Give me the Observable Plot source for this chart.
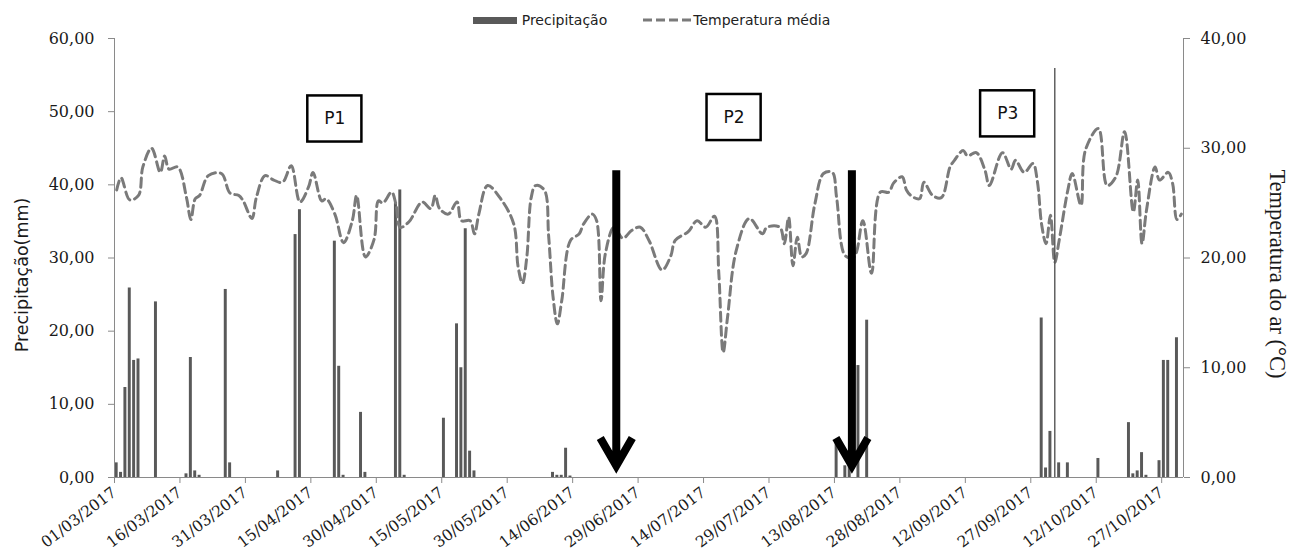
<!DOCTYPE html>
<html>
<head>
<meta charset="utf-8">
<script src="https://cdn.jsdelivr.net/npm/d3@7"></script>
<script src="https://cdn.jsdelivr.net/npm/@observablehq/plot@0.6"></script>
<style>
  body { margin: 0; background: #fff; }
  #legend { height: 28px; box-sizing: border-box; padding-top: 12px; display: flex; justify-content: center; align-items: center;
            font-family: "DejaVu Sans", sans-serif; font-size: 14px; color: #222; line-height: 16px; }
  #legend .sw { width: 44px; height: 7px; background: #595959; margin-right: 5px; }
  #legend .gap { width: 36px; }
  #legend svg { margin-right: 2px; }
</style>
</head>
<body>
<div id="legend">
  <span class="sw"></span><span>Precipitação</span><span class="gap"></span>
  <svg width="48" height="8"><line x1="0" y1="4" x2="48" y2="4" stroke="#7a7a7a" stroke-width="3" stroke-dasharray="9,4"></line></svg>
  <span>Temperatura média</span>
</div>
<div id="chart"></div>
<script>
// ---- data (days counted from 01/03/2017) ----
const startDate = "2017-03-01";
const endDate = "2017-11-01";

const precipDays = [0,1,2,3,4,5,9,16,17,18,19,25,26,37,41,42,50,51,52,56,57,64,65,66,75,78,79,80,81,82,100,101,102,103,104,165,167,168,170,172,212,213,214,216,218,225,232,233,234,235,236,239,240,241,243];
const precipMm   = [2.0,0.7,12.3,25.9,16.0,16.2,24.0,0.5,16.4,0.9,0.3,25.7,2.0,0.9,33.2,36.6,32.3,15.2,0.3,8.9,0.7,37.5,39.3,0.3,8.1,21.0,15.0,34.0,3.6,0.9,0.7,0.3,0.3,4.0,0.2,4.8,1.6,1.6,15.3,21.5,21.8,1.3,6.3,2.0,2.0,2.6,7.5,0.5,0.9,3.4,0.3,2.3,16.0,16.0,19.1];

const tempDays = [0,1,3,5,6,8,10,11,12,14,16,17,18,19,21,24,26,28,29,31,32,34,36,38,40,42,44,45,47,48,50,52,54,55,57,59,60,61,63,64,65,67,70,72,73,74,76,78,79,81,82,83,85,88,91,92,93,94,95,96,98,99,100,101,102,104,106,107,109,110,111,112,114,116,118,120,122,125,127,128,131,133,135,137,138,139,140,142,145,148,149,152,153,154,155,156,157,158,160,162,164,165,167,169,171,173,175,177,178,180,181,182,184,185,187,189,191,192,194,195,197,199,200,203,205,206,208,210,211,212,213,214,215,216,218,219,221,222,225,227,229,231,233,234,235,236,238,239,241,242,243,244];
const tempC    = [26.2,27.3,25.3,25.7,28.3,30.0,27.8,29.3,28.1,28.3,25.5,23.5,25.4,25.7,27.5,27.7,25.9,25.7,25.2,23.6,25.5,27.5,27.1,26.9,28.4,25.1,26.5,27.8,25.2,25.4,24.0,21.4,23.4,25.7,20.1,21.7,25.2,25.0,26.0,24.9,22.8,23.3,25.1,24.5,25.7,24.5,24.0,25.1,23.4,23.4,22.2,24.0,26.6,25.4,23.1,19.2,17.7,20.1,25.5,26.6,26.2,22.0,16.5,14.0,16.1,21.6,22.2,23.1,24.0,23.4,16.1,20.4,22.8,21.8,22.5,22.8,21.6,18.9,20.2,21.6,22.4,23.4,22.8,23.8,18.6,11.4,14.6,20.7,23.6,22.2,22.8,22.8,21.3,23.7,19.3,21.9,20.1,20.4,24.9,27.7,27.8,25.5,20.2,20.1,23.4,18.6,26.0,26.0,26.8,27.4,26.2,25.7,25.4,26.9,25.7,25.5,28.3,28.9,29.8,29.3,29.6,28.0,26.6,29.6,28.1,28.9,27.8,28.6,27.0,23.0,21.3,23.9,19.6,21.6,26.2,27.7,24.8,29.8,31.8,26.6,27.4,31.5,24.2,27.1,21.3,24.3,28.3,27.1,27.8,26.8,23.5,24.0];

const xTickLabels = ["01/03/2017","16/03/2017","31/03/2017","15/04/2017","30/04/2017","15/05/2017","30/05/2017","14/06/2017","29/06/2017","14/07/2017","29/07/2017","13/08/2017","28/08/2017","12/09/2017","27/09/2017","12/10/2017","27/10/2017"];
const precipTicks = [0,10,20,30,40,50,60];
const tempTicks = [0,10,20,30,40];

// annotations
const periodLabels = ["P1","P2","P3"];
const periodDays = [50.5,142.0,204.7];
const periodMm = [49.0,49.2,49.7];
const arrowDays = [115, 169];
const arrowTopMm = [42, 42];
const arrowTipMm = [1.6, 1.6];
const markerDay = [215];
const markerMm = [55.9];

// ---- helpers ----
const t0 = d3.utcParse("%Y-%m-%d")(startDate);
const t1 = d3.utcParse("%Y-%m-%d")(endDate);
const dayAt = (d) => new Date(t0.getTime() + d * 864e5);
const parseTick = d3.utcParse("%d/%m/%Y");
const fmt = (v) => v.toFixed(2).replace(".", ",");
const tempToMm = 60 / 40;

const precip = precipDays.map((d, i) => ({day: d, mm: precipMm[i]}));
const temp = tempDays.map((d, i) => ({day: d, t: tempC[i]}));
const periods = periodLabels.map((l, i) => ({label: l, day: periodDays[i], mm: periodMm[i]}));
const arrows = arrowDays.map((d, i) => ({day: d, top: arrowTopMm[i], tip: arrowTipMm[i]}));
const markers = markerDay.map((d, i) => ({day: d, mm: markerMm[i]}));
const boxHalfDays = 6.2, boxHalfMm = 3.15;

const axisColor = "#8a8a8a";
const textColor = "#1a1a1a";

const chart = Plot.plot({
  width: 1303,
  height: 524,
  marginTop: 10,
  marginBottom: 75,
  marginLeft: 114,
  marginRight: 120,
  style: {background: "white", overflow: "visible"},
  x: {type: "utc", domain: [t0, t1]},
  y: {domain: [0, 60]},
  marks: [
    Plot.rect(precip, {x1: d => dayAt(d.day), x2: d => dayAt(d.day + 1), y1: 0, y2: "mm", fill: "#595959", insetLeft: 0.7, insetRight: 0.7}),
    Plot.line(temp, {x: d => dayAt(d.day + 0.5), y: d => d.t * tempToMm, stroke: "#7a7a7a", strokeWidth: 3, strokeDasharray: "9,5", curve: "catmull-rom"}),
    Plot.ruleX(markers, {x: d => dayAt(d.day + 0.5), y1: 0, y2: "mm", stroke: "#555", strokeWidth: 1.4}),
    Plot.rect(periods, {x1: d => dayAt(d.day - boxHalfDays), x2: d => dayAt(d.day + boxHalfDays), y1: d => d.mm - boxHalfMm, y2: d => d.mm + boxHalfMm, fill: "white", stroke: "black", strokeWidth: 2.5}),
    Plot.text(periods, {x: d => dayAt(d.day), y: "mm", text: "label", fontSize: 17, fontFamily: "DejaVu Sans", fill: "#111"}),
    Plot.arrow(arrows, {x: d => dayAt(d.day), y1: "top", y2: "tip", stroke: "black", strokeWidth: 8, headLength: 6, headAngle: 60, strokeLinecap: "butt", strokeLinejoin: "miter", strokeMiterlimit: 4}),
    Plot.ruleX([t0], {y1: 0, y2: 60, stroke: axisColor}),
    Plot.ruleX([t1], {y1: 0, y2: 60, stroke: axisColor}),
    Plot.ruleY([0], {stroke: axisColor}),
    Plot.axisY({anchor: "left", ticks: precipTicks, tickFormat: fmt, tickSize: 6, tickPadding: 14, stroke: axisColor, fill: textColor, fontSize: 16, fontFamily: "DejaVu Serif", label: null}),
    Plot.axisY({anchor: "right", ticks: tempTicks.map(v => v * tempToMm), tickFormat: v => fmt(v / tempToMm), tickSize: 6, tickPadding: 11, stroke: axisColor, fill: textColor, fontSize: 16, fontFamily: "DejaVu Serif", label: null}),
    Plot.axisX({ticks: xTickLabels.map(parseTick), tickFormat: d3.utcFormat("%d/%m/%Y"), tickRotate: -37, tickSize: 6, tickPadding: 7, stroke: axisColor, fill: textColor, fontSize: 15.5, fontFamily: "DejaVu Serif", label: null}),
    Plot.text(["Precipitação(mm)"], {frameAnchor: "left", dx: -92, dy: 17, rotate: -90, textAnchor: "middle", fontSize: 17.5, fontFamily: "DejaVu Sans", fill: textColor}),
    Plot.text(["Temperatura do ar (°C)"], {frameAnchor: "right", dx: 94, dy: 16, rotate: 90, textAnchor: "middle", fontSize: 22.5, fontFamily: "Liberation Serif", fill: textColor})
  ]
});
document.getElementById("chart").appendChild(chart);
</script>
</body>
</html>
